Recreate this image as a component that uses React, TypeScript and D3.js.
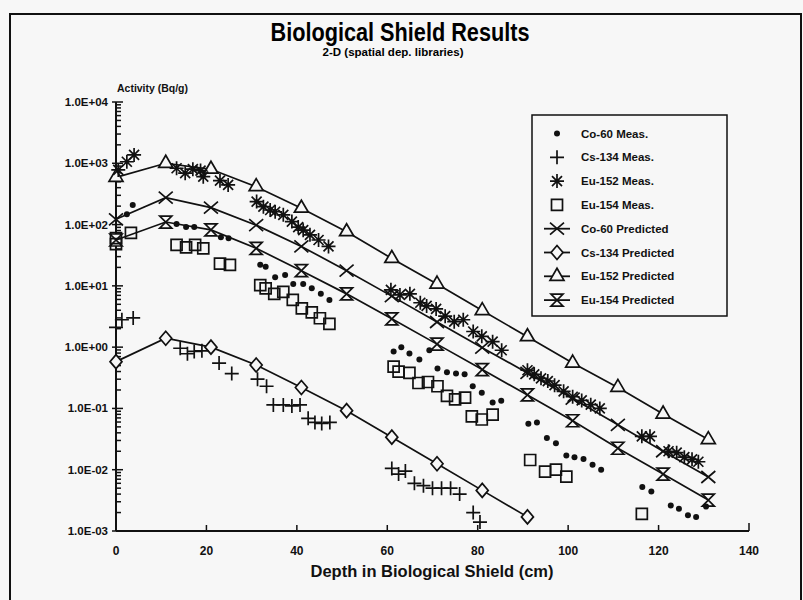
import React, { useEffect, useRef } from 'react';
import * as d3 from 'd3';

// predicted curves (depth in cm, activity in Bq/g)
const predDepth = [0, 11, 21, 31, 41, 51, 61, 71, 81, 91, 101, 111, 121, 131];
const co60Pred = [122, 275, 189, 98, 44, 17.7, 6.8, 2.57, 0.98, 0.38, 0.145, 0.054, 0.02, 0.0076];
const eu152Pred = [590, 1000, 800, 415, 185, 76.5, 28, 10.7, 3.95, 1.48, 0.55, 0.22, 0.081, 0.031];
const eu154Pred = [56, 110, 82, 41, 17.7, 7.4, 2.9, 1.12, 0.43, 0.166, 0.063, 0.0224, 0.0085, 0.0032];
const cs134Pred = [0.58, 1.4, 1.0, 0.51, 0.22, 0.092, 0.034, 0.0125, 0.0046, 0.0017];

// measured points
const co60MeasDepth = [2.4, 3.7, 13.4, 15.5, 17.3, 23.2, 24.9, 31.9, 33.1, 35.2, 37.4, 39.2, 41.4, 43.3, 45.3, 47.2,
  61.4, 63.1, 64.9, 67.1, 69.3, 71.1, 73.2, 75.2, 77.1, 78.9, 80.9, 83.3, 85.2, 91.2, 93.1, 95.3, 97.3,
  99.6, 101.4, 103.4, 105.4, 107.3, 116.4, 118.4, 122.7, 124.5, 126.5, 128.3, 130.5];
const co60Meas = [148, 209, 102, 91, 91, 62, 60, 22, 20.5, 13.8, 15, 10.7, 10.7, 9.1, 7.4, 5.9,
  0.85, 1.0, 0.79, 0.63, 0.89, 0.45, 0.39, 0.37, 0.36, 0.23, 0.18, 0.125, 0.134, 0.056, 0.059, 0.033, 0.027,
  0.017, 0.016, 0.015, 0.012, 0.01, 0.0052, 0.0044, 0.0026, 0.0023, 0.0018, 0.0017, 0.0025];

const cs134MeasDepth = [0, 1.3, 3.8, 14.2, 15.8, 17.3, 19.0, 22.8, 25.6, 31.3, 33.3, 34.8, 37, 38.9, 40.7,
  42.5, 44, 45.5, 47.3, 61, 62.5, 64, 66, 68, 70, 72, 74, 76, 79, 80.5];
const cs134Meas = [2.1, 2.8, 3.0, 0.96, 0.78, 0.85, 0.87, 0.55, 0.37, 0.3, 0.23, 0.114, 0.114, 0.11, 0.114,
  0.069, 0.059, 0.057, 0.059, 0.0105, 0.0085, 0.0095, 0.006, 0.0055, 0.005, 0.005, 0.005, 0.004, 0.002, 0.0014];

const eu152MeasDepth = [0.5, 2.4, 4.0, 13.4, 15.3, 17.0, 18.7, 19.3, 23.0, 24.8,
  31.1, 32.6, 34.1, 35.2, 37.0, 38.9, 40.3, 41.4, 42.9, 44.8, 47.0,
  60.8, 62.8, 65.0, 67.3, 68.7, 70.8, 72.8, 74.8, 76.8, 79.0, 80.9, 83.3, 85.3,
  91, 92.5, 94, 95.5, 97, 99, 101, 103, 105, 107, 116.3, 118.1, 122.2, 124.0, 125.7, 127.4, 128.8];
const eu152Meas = [780, 1060, 1370, 830, 690, 800, 760, 605, 520, 443,
  237, 196, 173, 162, 144, 112, 91, 81, 68, 56, 44,
  8.6, 7.1, 7.4, 5.3, 4.7, 4.2, 3.2, 2.6, 2.8, 1.8, 1.5, 1.23, 0.89,
  0.42, 0.36, 0.31, 0.28, 0.24, 0.19, 0.155, 0.135, 0.115, 0.1, 0.035, 0.035, 0.02, 0.019, 0.016, 0.0148, 0.0135];

const eu154MeasDepth = [0, 0, 3.3, 13.4, 15.5, 17.5, 19.3, 23, 25.2, 31.9, 33.1, 35, 37, 39.1, 41.1, 43.3, 45.1, 47.2,
  61.4, 62.5, 64.9, 66.9, 69, 71.1, 73.2, 75, 77.2, 78.7, 80.9, 83.3, 91.6, 94.9, 97.3, 99.6, 116.3];
const eu154Meas = [60, 48, 73, 46.6, 42.5, 46.6, 41, 23, 22, 10.3, 9.1, 7.4, 8.0, 5.9, 4.3, 3.7, 2.96, 2.4,
  0.48, 0.4, 0.38, 0.26, 0.27, 0.23, 0.16, 0.14, 0.15, 0.074, 0.066, 0.079, 0.0144, 0.0093, 0.01, 0.0077, 0.0019];

const legendLabels = ['Co-60 Meas.', 'Cs-134 Meas.', 'Eu-152 Meas.', 'Eu-154 Meas.',
  'Co-60 Predicted', 'Cs-134 Predicted', 'Eu-152 Predicted', 'Eu-154 Predicted'];
const xTicks = [0, 20, 40, 60, 80, 100, 120, 140];

const BG = '#f7f7f7';
const FONT = '"Liberation Sans", Arial, Helvetica, sans-serif';

// marker shapes, centred on the data point
const shapes: Record<string, string> = {
  plus: 'M-7,0H7M0,-7V7',
  star: 'M-7,0H7M0,-7V7M-5,-5L5,5M-5,5L5,-5',
  square: 'M-5.5,-5.5H5.5V5.5H-5.5Z',
  cross: 'M-7,-6L7,6M-7,6L7,-6',
  diamond: 'M0,-7L6,0L0,7L-6,0Z',
  triangle: 'M0,-8L7,4L-7,4Z',
  hourglass: 'M-6,-6H6L-6,6H6Z',
};

export default function App() {
  const ref = useRef<SVGSVGElement>(null);

  useEffect(() => {
    const svg = d3.select(ref.current);
    svg.selectAll('*').remove();

    const x = d3.scaleLinear().domain([0, 140]).range([116, 749]);
    const y = d3.scaleLog().domain([1e-3, 1e4]).range([531, 102]);

    // page frame
    svg.append('path')
      .attr('d', 'M10,600V14H801V600')
      .attr('fill', 'none').attr('stroke', '#111').attr('stroke-width', 2);

    // titles
    svg.append('text').attr('x', 400).attr('y', 41)
      .attr('text-anchor', 'middle').attr('font-family', FONT).attr('font-weight', 'bold')
      .attr('font-size', 25).attr('textLength', 259).attr('lengthAdjust', 'spacingAndGlyphs')
      .text('Biological Shield Results');
    svg.append('text').attr('x', 393).attr('y', 56)
      .attr('text-anchor', 'middle').attr('font-family', FONT).attr('font-weight', 'bold')
      .attr('font-size', 11).attr('textLength', 141).attr('lengthAdjust', 'spacingAndGlyphs')
      .text('2-D (spatial dep. libraries)');

    const g = svg.append('g').attr('stroke', '#111').attr('fill', '#111');

    // y axis (log)
    g.append('line').attr('x1', x(0)).attr('x2', x(0)).attr('y1', y(1e4)).attr('y2', y(1e-3)).attr('stroke-width', 2);
    for (let e = -3; e <= 4; e++) {
      for (let k = 1; k <= 9; k++) {
        const v = k * Math.pow(10, e);
        if (v > 1e4) break;
        const major = k === 1;
        g.append('line')
          .attr('x1', x(0) - (major ? 4 : 0)).attr('x2', x(0) + (major ? 7 : 5))
          .attr('y1', y(v)).attr('y2', y(v)).attr('stroke-width', 1.5);
      }
      const lab = `1.0E${e < 0 ? '-' : '+'}${String(Math.abs(e)).padStart(2, '0')}`;
      svg.append('text').attr('x', 108).attr('y', y(Math.pow(10, e)) + 4)
        .attr('text-anchor', 'end').attr('font-family', FONT).attr('font-weight', 'bold')
        .attr('font-size', 11.5).attr('fill', '#111').text(lab);
    }
    svg.append('text').attr('x', 117).attr('y', 92)
      .attr('font-family', FONT).attr('font-weight', 'bold').attr('font-size', 10.5)
      .attr('textLength', 71).attr('lengthAdjust', 'spacingAndGlyphs').attr('fill', '#111')
      .text('Activity (Bq/g)');

    // x axis
    g.append('line').attr('x1', x(0)).attr('x2', x(140)).attr('y1', y(1e-3)).attr('y2', y(1e-3)).attr('stroke-width', 2);
    xTicks.forEach(t => {
      if (t > 0) {
        g.append('line').attr('x1', x(t)).attr('x2', x(t))
          .attr('y1', y(1e-3)).attr('y2', y(1e-3) - (t === 140 ? 8 : 6)).attr('stroke-width', 1.5);
      }
      svg.append('text').attr('x', x(t)).attr('y', 555)
        .attr('text-anchor', 'middle').attr('font-family', FONT).attr('font-weight', 'bold')
        .attr('font-size', 12).attr('fill', '#111').text(t);
    });
    svg.append('text').attr('x', 432).attr('y', 577)
      .attr('text-anchor', 'middle').attr('font-family', FONT).attr('font-weight', 'bold')
      .attr('font-size', 16.5).attr('textLength', 243).attr('lengthAdjust', 'spacingAndGlyphs')
      .attr('fill', '#111').text('Depth in Biological Shield (cm)');

    // predicted lines
    const line = d3.line<[number, number]>().x(d => x(d[0])).y(d => y(d[1]));
    const preds: [number[], string][] = [
      [co60Pred, 'cross'], [cs134Pred, 'diamond'], [eu152Pred, 'triangle'], [eu154Pred, 'hourglass'],
    ];
    preds.forEach(([vals]) => {
      const pts = vals.map((v, i) => [predDepth[i], v] as [number, number]);
      g.append('path').attr('d', line(pts)).attr('fill', 'none').attr('stroke-width', 1.7);
    });

    const drawMarks = (xs: number[], vs: number[], shape: string, fill: string) => {
      vs.forEach((v, i) => {
        if (shape === 'dot') {
          g.append('circle').attr('cx', x(xs[i])).attr('cy', y(v)).attr('r', 3).attr('stroke', 'none');
        } else {
          g.append('path').attr('d', shapes[shape])
            .attr('transform', `translate(${x(xs[i])},${y(v)})`)
            .attr('fill', fill).attr('stroke-width', 1.7);
        }
      });
    };

    preds.forEach(([vals, shape]) => drawMarks(predDepth, vals, shape, BG));
    drawMarks(co60MeasDepth, co60Meas, 'dot', '#111');
    drawMarks(cs134MeasDepth, cs134Meas, 'plus', 'none');
    drawMarks(eu152MeasDepth, eu152Meas, 'star', 'none');
    drawMarks(eu154MeasDepth, eu154Meas, 'square', 'none');

    // legend
    const lg = svg.append('g');
    lg.append('rect').attr('x', 532).attr('y', 115).attr('width', 195).attr('height', 201)
      .attr('fill', BG).attr('stroke', '#111').attr('stroke-width', 1.5);
    const legShapes = ['dot', 'plus', 'star', 'square', 'cross', 'diamond', 'triangle', 'hourglass'];
    legendLabels.forEach((lab, i) => {
      const cy = 133.5 + i * 23.8;
      const sg = lg.append('g').attr('stroke', '#111').attr('fill', '#111');
      if (i >= 4) {
        sg.append('line').attr('x1', 544).attr('x2', 570).attr('y1', cy).attr('y2', cy).attr('stroke-width', 1.8);
      }
      if (legShapes[i] === 'dot') {
        sg.append('circle').attr('cx', 557).attr('cy', cy).attr('r', 3).attr('stroke', 'none');
      } else {
        sg.append('path').attr('d', shapes[legShapes[i]]).attr('transform', `translate(557,${cy})`)
          .attr('fill', i >= 4 ? BG : 'none').attr('stroke-width', 1.7);
      }
      lg.append('text').attr('x', 581).attr('y', cy + 4)
        .attr('font-family', FONT).attr('font-weight', 'bold').attr('font-size', 11.5)
        .attr('fill', '#111').text(lab);
    });
  }, []);

  return (
    <svg ref={ref} width={803} height={600}
      style={{ position: 'absolute', left: 0, top: 0, background: BG }} />
  );
}
